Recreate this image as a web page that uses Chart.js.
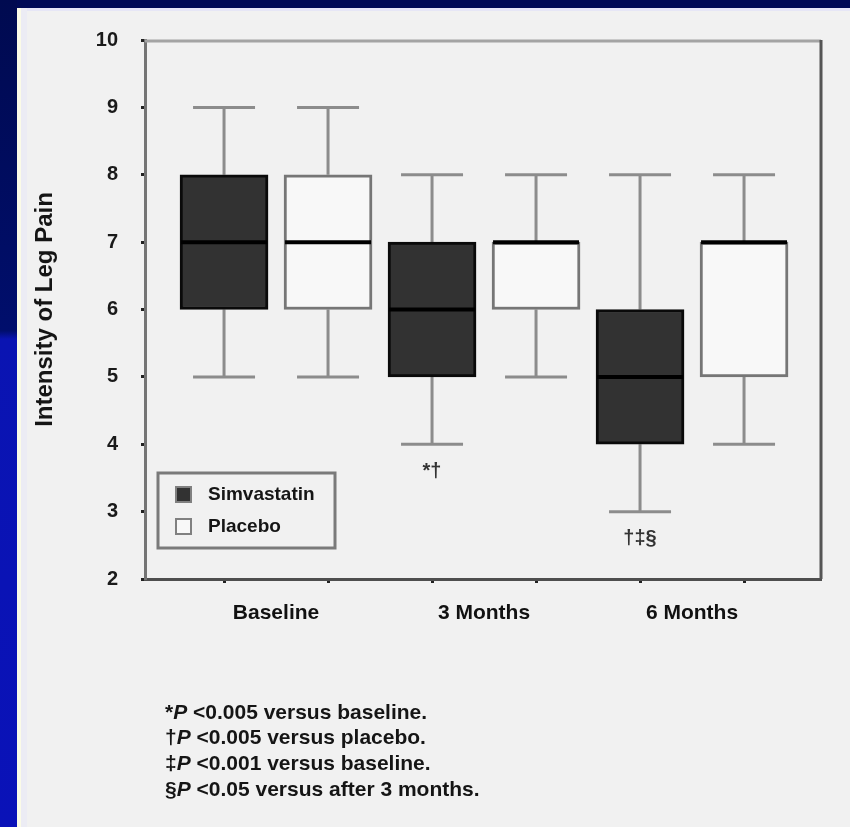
<!DOCTYPE html>
<html>
<head>
<meta charset="utf-8">
<title>Intensity of Leg Pain</title>
<script src="https://cdn.jsdelivr.net/npm/chart.js@4.4.1/dist/chart.umd.min.js"></script>
<style>
    html, body { margin: 0; padding: 0; background: #f1f1f1; }
    #wrap { position: relative; width: 850px; height: 827px; overflow: hidden; background: #f1f1f1; }
    #chart { position: absolute; left: 0; top: 0; }
    .edge { position: absolute; pointer-events: none; }
    #edgeTop { left: 0; top: 0; width: 850px; height: 8px; background: #000a55; }
    #edgeTopLine { left: 17px; top: 8px; width: 833px; height: 3px; background: #e6e6f6; }
    #edgeLeft { left: 0; top: 0; width: 17px; height: 827px;
        background: linear-gradient(#000a50 0%, #000e6c 40%, #0a14b2 41%, #0a12b8 100%); }
    #edgeLeftLine { left: 17px; top: 8px; width: 4px; height: 819px; background: #fbfbe8; }
    #edgeLeftHaze { left: 21px; top: 8px; width: 6px; height: 819px; background: #ececf4; }
</style>
</head>
<body>
<div id="wrap">
    <canvas id="chart" width="850" height="827"></canvas>
    <div class="edge" id="edgeTop"></div>
    <div class="edge" id="edgeTopLine"></div>
    <div class="edge" id="edgeLeft"></div>
    <div class="edge" id="edgeLeftLine"></div>
    <div class="edge" id="edgeLeftHaze"></div>
</div>
<script>
// Time points on the x axis
var categories = ['Baseline', '3 Months', '6 Months'];

// Simvastatin box statistics per time point
var simMin    = [5, 4, 3];
var simQ1     = [6, 5, 4];
var simMedian = [7, 6, 5];
var simQ3     = [8, 7, 6];
var simMax    = [9, 8, 8];

// Placebo box statistics per time point
var placeboMin    = [5, 5, 4];
var placeboQ1     = [6, 6, 5];
var placeboMedian = [7, 7, 7];
var placeboQ3     = [8, 7, 7];
var placeboMax    = [9, 8, 8];

// Pain scale ticks
var painTicks = [2, 3, 4, 5, 6, 7, 8, 9, 10];

// Significance marks under the lower whiskers (group index, series index)
var sigMarks = [
    { group : 1, series : 0, text : '*\u2020' },
    { group : 2, series : 0, text : '\u2020\u2021\u00a7' }
];

// Footnotes: symbol, italic P, rest of the line
var footnotes = [
    ['*',      ' <0.005 versus baseline.'],
    ['\u2020', ' <0.005 versus placebo.'],
    ['\u2021', ' <0.001 versus baseline.'],
    ['\u00a7', ' <0.05 versus after 3 months.']
];

(function() {
    'use strict';

    var FONT = '"Liberation Sans", Arial, sans-serif';

    var stats = [
        { min : simMin, median : simMedian, max : simMax },
        { min : placeboMin, median : placeboMedian, max : placeboMax }
    ];

    // Each box sits at its own slot: group * 2 + series + 1
    function slot(group, series) {
        return group * 2 + series + 1;
    }

    function boxData(q1, q3, series) {
        return categories.map(function(name, i) {
            return { x : slot(i, series), y : [q1[i], q3[i]] };
        });
    }

    function line(ctx, x1, y1, x2, y2) {
        ctx.beginPath();
        ctx.moveTo(x1, y1);
        ctx.lineTo(x2, y2);
        ctx.stroke();
    }

    // Whiskers, caps, medians, frame, legend and notes
    var boxPlugin = {
        id : 'boxExtras',

        beforeDatasetsDraw : function(chart) {
            var ctx = chart.ctx;
            var area = chart.chartArea;
            var y = chart.scales.y;

            ctx.save();

            // top and right edges of the plot frame
            ctx.lineCap = 'butt';
            ctx.strokeStyle = '#a4a4a4';
            ctx.lineWidth = 3;
            line(ctx, area.left, area.top + 1, area.right, area.top + 1);
            ctx.strokeStyle = '#555555';
            line(ctx, area.right, area.top, area.right, area.bottom);

            // whiskers with caps
            ctx.strokeStyle = '#8c8c8c';
            ctx.lineWidth = 3;
            chart.data.datasets.forEach(function(ds, d) {
                var meta = chart.getDatasetMeta(d);
                meta.data.forEach(function(bar, i) {
                    var s = stats[d];
                    var half = 31;
                    var yMin = y.getPixelForValue(s.min[i]);
                    var yMax = y.getPixelForValue(s.max[i]);
                    line(ctx, bar.x, yMax, bar.x, bar.y);
                    line(ctx, bar.x, bar.base, bar.x, yMin);
                    line(ctx, bar.x - half, yMax, bar.x + half, yMax);
                    line(ctx, bar.x - half, yMin, bar.x + half, yMin);
                });
            });
            ctx.restore();
        },

        afterDatasetsDraw : function(chart) {
            var ctx = chart.ctx;
            var y = chart.scales.y;
            var x = chart.scales.x;

            ctx.save();

            // medians
            ctx.strokeStyle = '#000000';
            ctx.lineWidth = 4;
            chart.data.datasets.forEach(function(ds, d) {
                var meta = chart.getDatasetMeta(d);
                meta.data.forEach(function(bar, i) {
                    var ym = y.getPixelForValue(stats[d].median[i]);
                    line(ctx, bar.x - bar.width / 2 + 1, ym, bar.x + bar.width / 2 - 1, ym);
                });
            });

            // significance marks
            ctx.fillStyle = '#333333';
            ctx.font = 'bold 20px ' + FONT;
            ctx.textAlign = 'center';
            ctx.textBaseline = 'middle';
            sigMarks.forEach(function(m) {
                var bar = chart.getDatasetMeta(m.series).data[m.group];
                var ym = y.getPixelForValue(stats[m.series].min[m.group]);
                ctx.fillText(m.text, bar.x, ym + 27);
            });

            // group labels under the axis
            ctx.fillStyle = '#111111';
            ctx.font = 'bold 21px ' + FONT;
            categories.forEach(function(name, i) {
                var cx = x.getPixelForValue(slot(i, 0) + 0.5);
                ctx.fillText(name, cx, x.top + 34);
            });

            // legend
            var lx = 158, ly = 473, lw = 177, lh = 75;
            ctx.strokeStyle = '#7a7a7a';
            ctx.lineWidth = 3;
            ctx.strokeRect(lx, ly, lw, lh);
            ctx.textAlign = 'left';
            ctx.font = 'bold 19px ' + FONT;
            chart.data.datasets.forEach(function(ds, d) {
                var sy = ly + 14 + d * 32;
                ctx.fillStyle = ds.backgroundColor;
                ctx.fillRect(lx + 18, sy, 15, 15);
                ctx.strokeStyle = '#808080';
                ctx.lineWidth = 2;
                ctx.strokeRect(lx + 18, sy, 15, 15);
                ctx.fillStyle = '#151515';
                ctx.fillText(ds.label, lx + 50, sy + 8);
            });

            // footnotes
            footnotes.forEach(function(note, i) {
                var fy = 713 + i * 25.7;
                var fx = 165;
                ctx.font = 'bold 21px ' + FONT;
                ctx.fillText(note[0], fx, fy);
                fx += ctx.measureText(note[0]).width;
                ctx.font = 'italic bold 21px ' + FONT;
                ctx.fillText('P', fx, fy);
                fx += ctx.measureText('P').width;
                ctx.font = 'bold 21px ' + FONT;
                ctx.fillText(note[1], fx, fy);
            });

            ctx.restore();
        }
    };

    var ctx = document.getElementById('chart').getContext('2d');

    new Chart(ctx, {
        type : 'bar',
        data : {
            datasets : [
                {
                    label : 'Simvastatin',
                    data : boxData(simQ1, simQ3, 0),
                    backgroundColor : '#323232',
                    borderColor : '#0a0a0a',
                    borderWidth : 3
                },
                {
                    label : 'Placebo',
                    data : boxData(placeboQ1, placeboQ3, 1),
                    backgroundColor : '#f8f8f8',
                    borderColor : '#767676',
                    borderWidth : 3
                }
            ]
        },
        options : {
            responsive : false,
            animation : false,
            devicePixelRatio : 1,
            grouped : false,
            barThickness : 88,
            borderSkipped : false,
            layout : {
                padding : { left : 0, top : 40, right : 29, bottom : 0 }
            },
            plugins : {
                legend : { display : false },
                tooltip : { enabled : false }
            },
            scales : {
                x : {
                    type : 'linear',
                    min : 0.24,
                    max : 6.74,
                    offset : false,
                    afterFit : function(scale) { scale.height = 248; },
                    // one tick mark under every box
                    afterBuildTicks : function(scale) {
                        var marks = [];
                        categories.forEach(function(name, i) {
                            marks.push({ value : slot(i, 0) }, { value : slot(i, 1) });
                        });
                        scale.ticks = marks;
                    },
                    border : { color : '#4e4e4e', width : 3 },
                    grid : {
                        offset : false,
                        drawOnChartArea : false,
                        tickLength : 4,
                        tickWidth : 3,
                        tickColor : '#222222'
                    },
                    ticks : { display : false }
                },
                y : {
                    min : painTicks[0],
                    max : painTicks[painTicks.length - 1],
                    afterFit : function(scale) { scale.width = 145; },
                    afterBuildTicks : function(scale) {
                        scale.ticks = painTicks.map(function(v) { return { value : v }; });
                    },
                    border : { color : '#747474', width : 3 },
                    grid : {
                        drawOnChartArea : false,
                        tickLength : 4,
                        tickWidth : 3,
                        tickColor : '#222222'
                    },
                    ticks : {
                        color : '#1a1a1a',
                        padding : 23,
                        font : { family : FONT, size : 20, weight : 'bold' }
                    },
                    title : {
                        display : true,
                        text : 'Intensity of Leg Pain',
                        color : '#151515',
                        padding : { top : 31, bottom : 0 },
                        font : { family : FONT, size : 24, weight : 'bold' }
                    }
                }
            }
        },
        plugins : [boxPlugin]
    });
})();
</script>
</body>
</html>
